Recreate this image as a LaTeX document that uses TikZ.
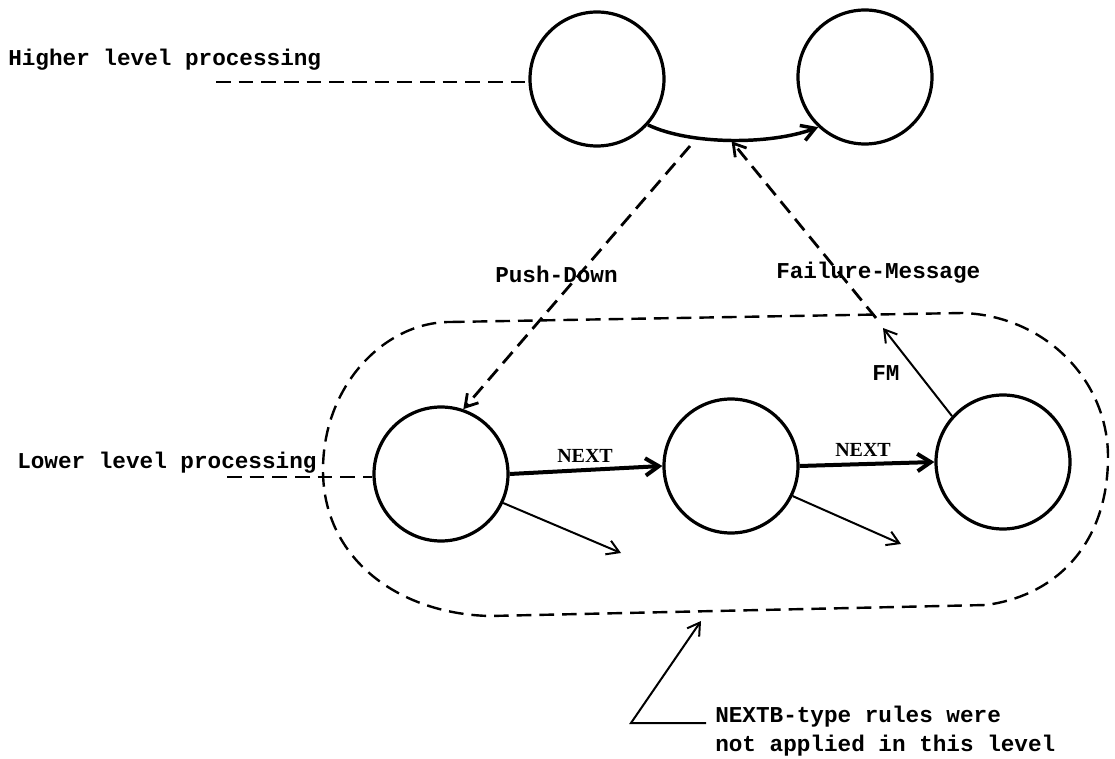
\documentclass[tikz,border=0pt]{standalone}
\usepackage{fontspec}
\setmainfont{Liberation Serif}
\setmonofont{Liberation Mono}
\usetikzlibrary{arrows.meta}

\tikzset{
  state/.style={circle,draw,line width=2.4pt,minimum size=100.5pt,inner sep=0pt},
  dsh/.style={line width=2.1pt,dash pattern=on 11pt off 6pt},
  region/.style={line width=1.8pt,dash pattern=on 11pt off 6pt},
  barb/.style={-{Straight Barb[length=9pt,width=11pt]}},
  heavy/.style={line width=3pt,-{Straight Barb[length=10pt,width=13pt]}},
  curvearrow/.style={line width=2.6pt,-{Straight Barb[length=10pt,width=12pt]}},
  thinarrow/.style={line width=1.5pt,-{Straight Barb[length=9pt,width=11pt]}},
  lbl/.style={font=\ttfamily\bfseries\fontsize{17}{20}\selectfont,inner sep=0pt},
  msg/.style={font=\ttfamily\bfseries\fontsize{17}{20}\selectfont,inner sep=0pt},
  nextlbl/.style={font=\bfseries\fontsize{15}{18}\selectfont,inner sep=0pt}
}

\begin{document}
\begin{tikzpicture}[x=0.75pt,y=-0.75pt]
\useasboundingbox (0,0) rectangle (1115,759);

% processing states
\node[state] (h1) at (597,79) {};
\node[state] (h2) at (865,77) {};
\node[state] (c1) at (441,474) {};
\node[state] (c2) at (731,466) {};
\node[state] (c3) at (1003,462) {};

% transition between the higher level states
\draw[curvearrow] (h1.-42) .. controls (690,145) and (770,145) .. (h2.-133)
  coordinate[pos=0.5] (fmend);

% level labels and leaders
\node[lbl,anchor=base west] (hlabel) at (8,66) {Higher level processing};
\coordinate (hl) at (216,82);
\draw[dsh] (hl) -- (hl -| h1.west);

\node[lbl,anchor=base west] (llabel) at (17,469) {Lower level processing};
\coordinate (ll) at (227,477);
\draw[dsh] (ll) -- (ll -| c1.west);

% lower level region
\draw[region] (450,322) -- (963,313)
  .. controls (1045,316) and (1108,380) .. (1108,457)
  .. controls (1108,540) and (1060,595) .. (986,605)
  -- (490,616)
  .. controls (400,614) and (323,560) .. (323,470)
  .. controls (323,385) and (385,322) .. (450,322) -- cycle;

% push-down
\coordinate (pd) at (690,146);
\draw[dsh,barb] (pd) -- (c1.71);
\node[msg,anchor=base west] (pdlabel) at (495,283) {Push-Down};

% failure message
\coordinate (fmtip) at (883,328);
\coordinate (fmstart) at (876,318);
\draw[thinarrow] (c3.138) -- (fmtip);
\draw[dsh,barb,shorten >=1pt] (fmstart) -- (fmend);
\node[msg,anchor=base west] (fmlabel) at (776,279) {Failure-Message};
\node[msg,anchor=base west] (fm) at (872,381) {FM};

% NEXT transitions
\draw[heavy] (c1.east) -- (c2.west);
\draw[heavy] (c2.east) -- (c3.west);
\node[nextlbl,anchor=base west] (n1) at (557,463) {NEXT};
\node[nextlbl,anchor=base west] (n2) at (835,457) {NEXT};

% other outgoing transitions
\coordinate (o1) at (621,553);
\coordinate (o2) at (901,544);
\draw[thinarrow] (c1.-25) -- (o1);
\draw[thinarrow] (c2.-26) -- (o2);

% note
\coordinate (pa) at (706,723);
\coordinate (pb) at (631,723);
\coordinate (pc) at (701,621);
\draw[thinarrow] (pa) -- (pb) -- (pc);
\node[lbl,anchor=base west] (nb1) at (715,722) {NEXTB-type rules were};
\node[lbl,anchor=base west] (nb2) at (715,751) {not applied in this level};
\end{tikzpicture}
\end{document}
